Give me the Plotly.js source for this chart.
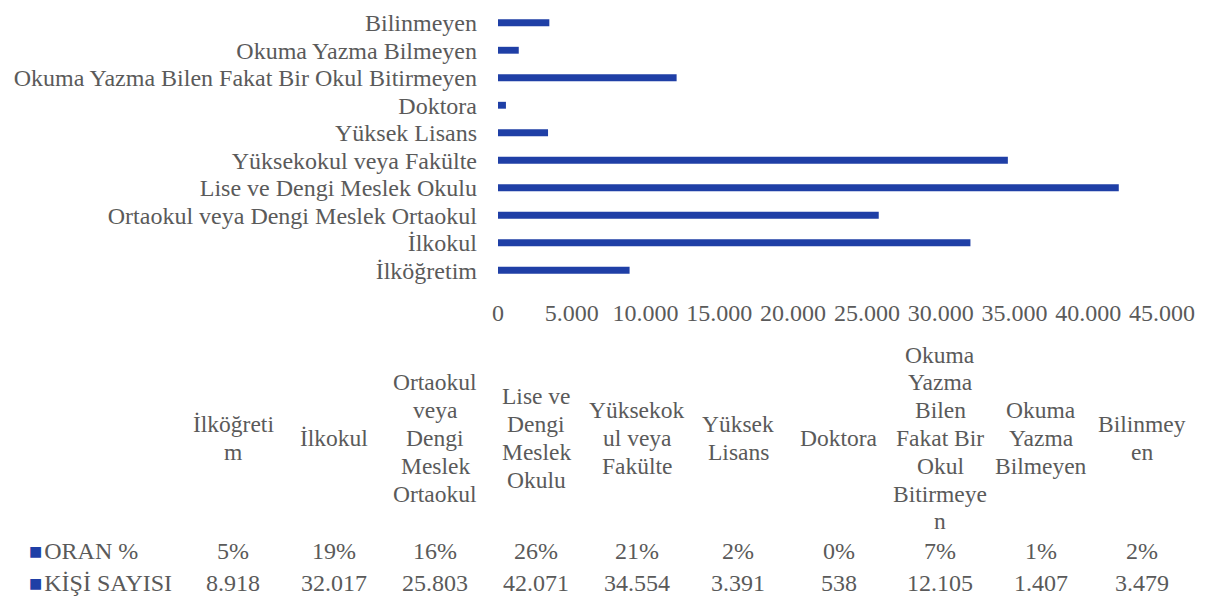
<!DOCTYPE html>
<html>
<head>
<meta charset="utf-8">
<script src="https://cdn.plot.ly/plotly-3.0.1.min.js"></script>
<style>html,body{margin:0;padding:0;background:#fff;}#chart{width:1205px;height:601px;}</style>
</head>
<body>
<div id="chart"></div>
<script>
// ---- data ----
const categories = [
  "İlköğretim",
  "İlkokul",
  "Ortaokul veya Dengi Meslek Ortaokul",
  "Lise ve Dengi Meslek Okulu",
  "Yüksekokul veya Fakülte",
  "Yüksek Lisans",
  "Doktora",
  "Okuma Yazma Bilen Fakat Bir Okul Bitirmeyen",
  "Okuma Yazma Bilmeyen",
  "Bilinmeyen"
];
const tableHeaders = [
  "İlköğreti<br>m",
  "İlkokul",
  "Ortaokul<br>veya<br>Dengi<br>Meslek<br>Ortaokul",
  "Lise ve<br>Dengi<br>Meslek<br>Okulu",
  "Yüksekok<br>ul veya<br>Fakülte",
  "Yüksek<br>Lisans",
  "Doktora",
  "Okuma<br>Yazma<br>Bilen<br>Fakat Bir<br>Okul<br>Bitirmeye<br>n",
  "Okuma<br>Yazma<br>Bilmeyen",
  "Bilinmey<br>en"
];
const oranPct = [5, 19, 16, 26, 21, 2, 0, 7, 1, 2];
const kisiSayisi = [8918, 32017, 25803, 42071, 34554, 3391, 538, 12105, 1407, 3479];
const seriesNames = ["ORAN %", "KİŞİ SAYISI"];
const xTicks = [0, 5000, 10000, 15000, 20000, 25000, 30000, 35000, 40000, 45000];

// ---- style ----
const textColor = "#5a5a5a";
const barColor = "#1f3fa6";
const fontFam = "Liberation Serif, Times New Roman, serif";
const W = 1205, H = 601;
const M = {l: 498, r: 43, t: 9, b: 305};
const plotW = W - M.l - M.r, plotH = H - M.t - M.b;

function fmtTR(n) {
  return String(n).replace(/\B(?=(\d{3})+(?!\d))/g, ".");
}
function px2paperX(px) { return (px - M.l) / plotW; }
function px2paperY(py) { return (H - M.b - py) / plotH; }

const colX0 = 233, colStep = 101;
const headerY = 438, lineH = 27.8, row1Y = 551, row2Y = 583;

const annotations = [];
tableHeaders.forEach((h, i) => {
  const lines = h.split("<br>");
  lines.forEach((ln, j) => {
    annotations.push({
      xref: "paper", yref: "paper",
      x: px2paperX(colX0 + i * colStep),
      y: px2paperY(headerY + (j - (lines.length - 1) / 2) * lineH),
      xanchor: "center", yanchor: "middle", align: "center",
      text: ln, showarrow: false,
      font: {family: fontFam, size: 23.5, color: textColor}
    });
  });
  annotations.push({
    xref: "paper", yref: "paper",
    x: px2paperX(colX0 + i * colStep), y: px2paperY(row1Y),
    xanchor: "center", yanchor: "middle",
    text: oranPct[i] + "%", showarrow: false,
    font: {family: fontFam, size: 24, color: textColor}
  });
  annotations.push({
    xref: "paper", yref: "paper",
    x: px2paperX(colX0 + i * colStep), y: px2paperY(row2Y),
    xanchor: "center", yanchor: "middle",
    text: fmtTR(kisiSayisi[i]), showarrow: false,
    font: {family: fontFam, size: 24, color: textColor}
  });
});
[row1Y, row2Y].forEach((ry, k) => {
  annotations.push({
    xref: "paper", yref: "paper",
    x: px2paperX(27), y: px2paperY(ry),
    xanchor: "left", yanchor: "middle",
    text: '<span style="color:' + barColor + ';font-size:14px;font-family:DejaVu Sans;baseline-shift:3px">■</span>\u200A' + seriesNames[k],
    showarrow: false,
    font: {family: fontFam, size: 24, color: textColor}
  });
});

const trace = {
  type: "bar",
  orientation: "h",
  x: kisiSayisi,
  y: categories,
  name: seriesNames[1],
  marker: {color: barColor},
  width: 0.25,
  hoverinfo: "x+y"
};

const layout = {
  width: W, height: H,
  margin: M,
  paper_bgcolor: "#fff", plot_bgcolor: "#fff",
  showlegend: false,
  separators: ",.",
  font: {family: fontFam, color: textColor, size: 24},
  xaxis: {
    range: [0, 45000],
    tickvals: xTicks,
    tickformat: ",d",
    showgrid: false, zeroline: false, showline: false,
    ticks: "",
    tickfont: {family: fontFam, size: 24, color: textColor}
  },
  yaxis: {
    type: "category",
    range: [-0.936, 9.5],
    tickmode: "array",
    tickvals: categories,
    ticktext: categories,
    showgrid: false, zeroline: false, showline: false,
    ticks: "",
    ticklabelstandoff: 20,
    tickfont: {family: fontFam, size: 24, color: textColor}
  },
  annotations: annotations
};

Plotly.newPlot("chart", [trace], layout, {displayModeBar: false, staticPlot: true});
</script>
</body>
</html>
